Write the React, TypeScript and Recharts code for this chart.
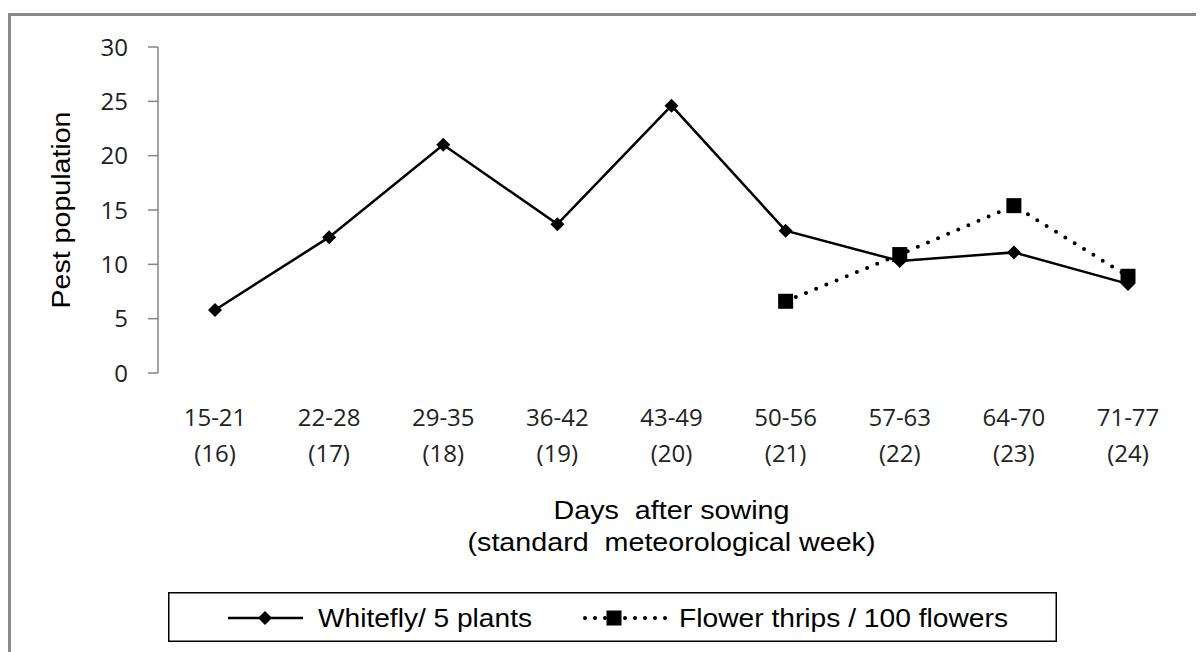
import { Legend, Line, LineChart, XAxis, YAxis } from 'recharts'

const weeks = ['15-21', '22-28', '29-35', '36-42', '43-49', '50-56', '57-63', '64-70', '71-77']
const smw = ['(16)', '(17)', '(18)', '(19)', '(20)', '(21)', '(22)', '(23)', '(24)']
const whitefly = [5.8, 12.5, 21.0, 13.7, 24.6, 13.1, 10.3, 11.1, 8.2]
const thrips = [null, null, null, null, null, 6.6, 10.9, 15.4, 8.9]
const yTicks = [0, 5, 10, 15, 20, 25, 30]

const WHITEFLY = 'Whitefly/ 5 plants'
const THRIPS = 'Flower thrips / 100 flowers'

const data = weeks.map((w, i) => ({ week: w, smw: smw[i], whitefly: whitefly[i], thrips: thrips[i] }))
const bandEdges = weeks.map((_, i) => i).concat(weeks.length)

const AXIS = '#868686'
const TICK_FONT = 'Open Sans, sans-serif'
const TEXT_FONT = 'Liberation Sans, Arial, sans-serif'

const Diamond = ({ cx, cy }: any) => {
  if (cx == null || cy == null) return <g />
  const r = 7
  return <path d={`M${cx},${cy - r}L${cx + r},${cy}L${cx},${cy + r}L${cx - r},${cy}Z`} fill='#000' />
}

const Square = ({ cx, cy }: any) => {
  if (cx == null || cy == null) return <g />
  const r = 7.5
  return <rect x={cx - r} y={cy - r} width={r * 2} height={r * 2} fill='#000' />
}

const WeekTick = ({ x, y, payload, index }: any) => (
  <text textAnchor='middle' fill='#222' style={{ fontFamily: TICK_FONT, fontSize: '24px' }}>
    <tspan x={x} y={y + 53}>{payload.value}</tspan>
    <tspan x={x} y={y + 89}>{smw[index]}</tspan>
  </text>
)

const xTitle = ({ viewBox }: any) => {
  const cx = viewBox.x + viewBox.width / 2
  return (
    <text textAnchor='middle' fill='#000' style={{ fontFamily: TEXT_FONT, fontSize: '26px', whiteSpace: 'pre' }}>
      <tspan x={cx} y={viewBox.y + 146} textLength={236} lengthAdjust='spacingAndGlyphs'>Days  after sowing</tspan>
      <tspan x={cx} y={viewBox.y + 178} textLength={408} lengthAdjust='spacingAndGlyphs'>(standard  meteorological week)</tspan>
    </text>
  )
}

const yTitle = ({ viewBox }: any) => {
  const cy = viewBox.y + viewBox.height / 2
  return (
    <text
      x={62}
      y={cy}
      transform={`rotate(-90, 62, ${cy})`}
      textAnchor='middle'
      fill='#000'
      textLength={197}
      lengthAdjust='spacingAndGlyphs'
      style={{ fontFamily: TEXT_FONT, fontSize: '25px' }}
    >
      Pest population
    </text>
  )
}

const LegendBox = () => (
  <svg width={889} height={50} style={{ display: 'block' }}>
    <rect x={0.75} y={0.75} width={887.5} height={48.5} fill='#fff' stroke='#000' strokeWidth={1.5} />
    <line x1={60} y1={26} x2={135} y2={26} stroke='#000' strokeWidth={2.5} />
    <Diamond cx={97} cy={26} />
    <text x={150} y={35} textLength={214} lengthAdjust='spacingAndGlyphs' style={{ fontFamily: TEXT_FONT, fontSize: '26px' }}>
      {WHITEFLY}
    </text>
    <line x1={417} y1={26} x2={502} y2={26} stroke='#000' strokeWidth={4} strokeDasharray='0 10' strokeLinecap='round' />
    <Square cx={446} cy={26} />
    <text x={511} y={35} textLength={329} lengthAdjust='spacingAndGlyphs' style={{ fontFamily: TEXT_FONT, fontSize: '26px' }}>
      {THRIPS}
    </text>
  </svg>
)

const App = () => {
  return (
    <div style={{ position: 'relative', width: 1196, height: 644, overflow: 'hidden', background: '#fff' }}>
      <div
        style={{
          position: 'absolute',
          left: 0,
          top: 5,
          width: 1400,
          height: 800,
          border: '3px solid #8a8a8a',
          boxSizing: 'border-box'
        }}
      />
      <div style={{ position: 'absolute', left: 0, top: 0 }}>
        <LineChart width={1196} height={644} data={data} margin={{ top: 39, right: 19, left: 0, bottom: 0 }}>
          <XAxis
            xAxisId='frame'
            type='number'
            domain={[0, weeks.length]}
            ticks={bandEdges}
            height={0}
            tickSize={7}
            tick={() => <g />}
            axisLine={{ stroke: AXIS, strokeWidth: 1.5 }}
            tickLine={{ stroke: AXIS, strokeWidth: 1.5 }}
          />
          <XAxis
            dataKey='week'
            interval={0}
            height={279}
            padding={{ left: 57, right: 57 }}
            axisLine={false}
            tickLine={false}
            tickSize={0}
            tickMargin={0}
            tick={<WeekTick />}
            label={xTitle}
          />
          <YAxis
            width={150}
            domain={[0, 30]}
            ticks={yTicks}
            interval={0}
            tickSize={10}
            tickMargin={20}
            axisLine={{ stroke: AXIS, strokeWidth: 1.5 }}
            tickLine={{ stroke: AXIS, strokeWidth: 1.5 }}
            tick={{ fill: '#222', fontSize: 24, fontFamily: TICK_FONT }}
            label={yTitle}
          />
          <Line
            dataKey='whitefly'
            name={WHITEFLY}
            stroke='#000'
            strokeWidth={2.5}
            dot={<Diamond />}
            activeDot={false}
            isAnimationActive={false}
          />
          <Line
            dataKey='thrips'
            name={THRIPS}
            stroke='#000'
            strokeWidth={4}
            strokeDasharray='0 11'
            strokeLinecap='round'
            dot={<Square />}
            activeDot={false}
            connectNulls={false}
            isAnimationActive={false}
          />
          <Legend
            layout='horizontal'
            verticalAlign='middle'
            align='center'
            wrapperStyle={{ left: 160, top: 584, width: 889, height: 50 }}
            content={() => <LegendBox />}
          />
        </LineChart>
      </div>
    </div>
  )
}

export default App
